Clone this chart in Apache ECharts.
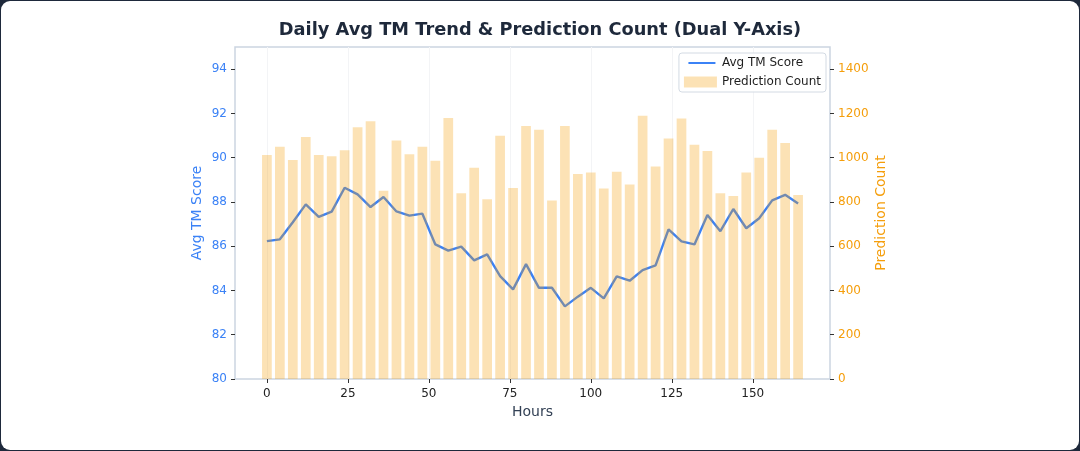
<!DOCTYPE html>
<html>
<head>
<meta charset="utf-8">
<script src="https://cdn.jsdelivr.net/npm/echarts@6/dist/echarts.min.js"></script>
<style>
  html, body { margin: 0; padding: 0; background: #1e293b; }
  .card {
    position: absolute; left: 1px; top: 1px; right: 1px; bottom: 1px;
    background: #fff; border-radius: 9px; overflow: hidden;
  }
  #chart { position: absolute; left: -1px; top: -1px; width: 1080px; height: 451px; }
</style>
</head>
<body>
<div class="card"><div id="chart"></div></div>
<script>
// hours since start (one point every 4 h)
const hours = [0, 4, 8, 12, 16, 20, 24, 28, 32, 36, 40, 44, 48, 52, 56, 60, 64, 68, 72, 76, 80,
  84, 88, 92, 96, 100, 104, 108, 112, 116, 120, 124, 128, 132, 136, 140, 144, 148, 152, 156, 160, 164]

const avgTm = [86.23, 86.31, 87.08, 87.89, 87.32, 87.56, 88.64, 88.34, 87.77, 88.22, 87.57,
  87.38, 87.47, 86.08, 85.80, 85.98, 85.36, 85.63, 84.65, 84.05, 85.19,
  84.12, 84.12, 83.28, 83.72, 84.12, 83.64, 84.64, 84.44, 84.92, 85.13,
  86.76, 86.22, 86.08, 87.41, 86.68, 87.68, 86.81, 87.26, 88.07, 88.32, 87.93]

const predCount = [1012, 1049, 989, 1093, 1012, 1006, 1034, 1137, 1165, 851, 1078,
  1015, 1049, 986, 1179, 839, 955, 812, 1099, 863, 1143,
  1126, 807, 1143, 926, 933, 861, 936, 879, 1189, 960,
  1087, 1177, 1058, 1030, 839, 827, 933, 1000, 1126, 1066, 831]

const xTicks = [0, 25, 50, 75, 100, 125, 150]
const leftTicks = [80, 82, 84, 86, 88, 90, 92, 94]
const rightTicks = [0, 200, 400, 600, 800, 1000, 1200, 1400]

const font = 'DejaVu Sans'
const blue = '#3b82f6'
const orange = '#f59e0b'

const chart = echarts.init(document.getElementById('chart'))

const option = {
  backgroundColor: 'transparent',
  animation: false,
  textStyle: { fontFamily: font },
  title: {
    text: 'Daily Avg TM Trend & Prediction Count (Dual Y-Axis)',
    left: 'center',
    top: 16,
    textStyle: { fontFamily: font, fontSize: 17.8, fontWeight: 'bold', color: '#1e293b' }
  },
  legend: {
    orient: 'vertical',
    right: 254,
    top: 53,
    itemWidth: 33,
    itemHeight: 11,
    itemGap: 7,
    padding: [4, 5, 4, 5],
    borderColor: '#d3dae3',
    borderWidth: 1,
    borderRadius: 3,
    backgroundColor: 'rgba(255,255,255,0.85)',
    textStyle: { fontFamily: font, fontSize: 12, color: '#1e1e1e' },
    data: [
      { name: 'Avg TM Score', icon: 'path://M0,0L0.01,0M3,4.6L30,4.6L30,6.4L3,6.4ZM0,11L0.01,11' },
      { name: 'Prediction Count', icon: 'rect' }
    ]
  },
  grid: {
    left: 235, right: 250, top: 47, bottom: 72,
    show: true, borderColor: '#cbd5e1', borderWidth: 1.5
  },
  xAxis: {
    type: 'value',
    min: -9.85,
    max: 173.85,
    name: 'Hours',
    nameLocation: 'middle',
    nameGap: 25,
    nameTextStyle: { fontFamily: font, fontSize: 14, color: '#334155' },
    axisLine: { show: false, onZero: false },
    axisTick: { show: true, length: 4, customValues: xTicks, lineStyle: { color: '#333' } },
    axisLabel: { customValues: xTicks, margin: 9, fontSize: 12, color: '#222', fontFamily: font },
    splitLine: { show: true, lineStyle: { color: '#f3f4f6', width: 1 } }
  },
  yAxis: [
    {
      type: 'value',
      min: 80,
      max: 95,
      position: 'left',
      name: 'Avg TM Score',
      nameLocation: 'middle',
      nameGap: 31,
      nameMoveOverlap: false,
      nameTextStyle: { fontFamily: font, fontSize: 14, color: blue },
      axisLine: { show: false, onZero: false },
      axisTick: { show: true, length: 4, customValues: leftTicks, lineStyle: { color: '#333' } },
      axisLabel: { customValues: leftTicks, margin: 8, fontSize: 12, color: blue, fontFamily: font },
      splitLine: { show: false }
    },
    {
      type: 'value',
      min: 0,
      max: 1500,
      position: 'right',
      name: 'Prediction Count',
      nameLocation: 'middle',
      nameGap: 44,
      nameMoveOverlap: false,
      nameTextStyle: { fontFamily: font, fontSize: 14, color: orange },
      axisLine: { show: false, onZero: false },
      axisTick: { show: true, length: 4, customValues: rightTicks, lineStyle: { color: '#333' } },
      axisLabel: {
        customValues: rightTicks, margin: 8, fontSize: 12, color: orange, fontFamily: font,
        formatter: v => String(v)
      },
      splitLine: { show: false }
    }
  ],
  series: [
    {
      name: 'Avg TM Score',
      type: 'line',
      yAxisIndex: 0,
      z: 1,
      symbol: 'none',
      data: hours.map((h, i) => [h, avgTm[i]]),
      lineStyle: { color: blue, width: 2.4 },
      itemStyle: { color: blue }
    },
    {
      name: 'Prediction Count',
      type: 'bar',
      yAxisIndex: 1,
      z: 3,
      barWidth: 9.7,
      data: hours.map((h, i) => [h, predCount[i]]),
      itemStyle: { color: 'rgba(245,158,11,0.3)' }
    }
  ]
}

chart.setOption(option)
</script>
</body>
</html>
